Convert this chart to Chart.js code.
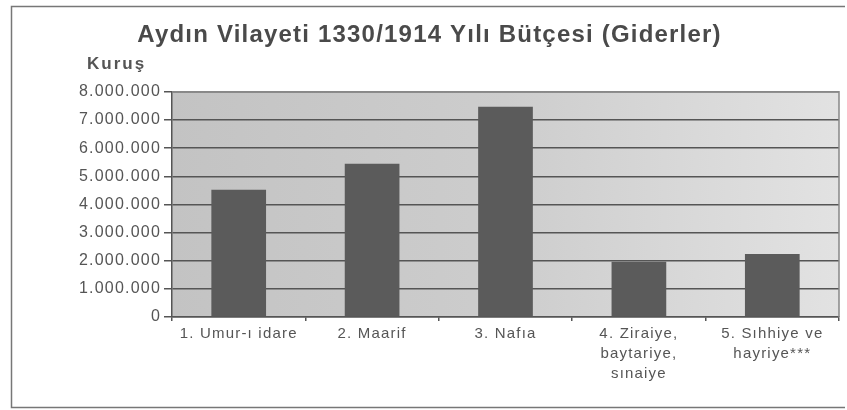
<!DOCTYPE html>
<html>
<head>
<meta charset="utf-8">
<title>Aydın Vilayeti 1330/1914 Yılı Bütçesi (Giderler)</title>
<script src="https://cdn.jsdelivr.net/npm/chart.js@4.4.1/dist/chart.umd.min.js"></script>
<style>
  body { margin: 0; background: #fff; }
  canvas { display: block; }
</style>
</head>
<body>
<canvas id="budgetChart" width="847" height="410"></canvas>
<script>
const categories = [
  '1. Umur-ı idare',
  '2. Maarif',
  '3. Nafıa',
  ['4. Ziraiye,', 'baytariye,', 'sınaiye'],
  ['5. Sıhhiye ve', 'hayriye***']
];
const expenses = [4520000, 5440000, 7470000, 1960000, 2240000];
const yTicks = [0, 1000000, 2000000, 3000000, 4000000, 5000000, 6000000, 7000000, 8000000];

const textColor = '#555';
const font = '"Liberation Sans", Arial, sans-serif';

// the scanned original is stretched sideways, so all text gets a little spacing
const wideText = {
  id: 'wideText',
  beforeUpdate(chart) { chart.ctx.letterSpacing = '1.2px'; },
  beforeDraw(chart) { chart.ctx.letterSpacing = '1.2px'; }
};

// gray plot background, outer frame and the "Kuruş" unit label
const frame = {
  id: 'frame',
  beforeDraw(chart) {
    const { ctx, chartArea: a } = chart;
    ctx.save();
    const g = ctx.createLinearGradient(a.left, 0, a.right, 0);
    g.addColorStop(0, '#c3c3c3');
    g.addColorStop(0.5, '#cdcdcd');
    g.addColorStop(1, '#e2e2e2');
    ctx.fillStyle = g;
    ctx.fillRect(a.left, a.top, a.right - a.left, a.bottom - a.top);

    ctx.strokeStyle = '#777';
    ctx.lineWidth = 1.5;
    ctx.beginPath();
    ctx.moveTo(845, 6.5);
    ctx.lineTo(11.5, 6.5);
    ctx.lineTo(11.5, 407.5);
    ctx.lineTo(845, 407.5);
    ctx.stroke();
    ctx.restore();
  },
  afterDraw(chart) {
    const { ctx, chartArea: a } = chart;
    ctx.save();
    ctx.strokeStyle = '#888';
    ctx.lineWidth = 1.5;
    ctx.beginPath();
    ctx.moveTo(a.left, a.top);
    ctx.lineTo(a.right, a.top);
    ctx.lineTo(a.right, a.bottom);
    ctx.stroke();

    ctx.fillStyle = textColor;
    ctx.letterSpacing = '2px';
    ctx.font = 'bold 17px ' + font;
    ctx.textBaseline = 'middle';
    ctx.fillText('Kuruş', 87, 64);
    ctx.restore();
  }
};

new Chart(document.getElementById('budgetChart'), {
  type: 'bar',
  data: {
    labels: categories,
    datasets: [{
      label: 'Giderler',
      data: expenses,
      backgroundColor: '#5b5b5b',
      barPercentage: 0.41,
      categoryPercentage: 1
    }]
  },
  options: {
    responsive: false,
    animation: false,
    layout: { padding: { left: 20, right: 8, top: 0, bottom: 0 } },
    plugins: {
      legend: { display: false },
      tooltip: { enabled: false },
      title: {
        display: true,
        text: 'Aydın Vilayeti 1330/1914 Yılı Bütçesi (Giderler)',
        color: '#4a4a4a',
        font: { family: font, size: 24, weight: 'bold', lineHeight: 1.2 },
        padding: { top: 21, bottom: 42 }
      }
    },
    scales: {
      x: {
        grid: { display: true, drawOnChartArea: false, tickLength: 4, color: '#555', lineWidth: 1.5 },
        border: { color: '#555', width: 1.5 },
        ticks: {
          color: textColor,
          padding: 3,
          maxRotation: 0,
          autoSkip: false,
          font: { family: font, size: 15, lineHeight: 1.33 }
        },
        afterFit(scale) { scale.height = 93; }
      },
      y: {
        min: 0,
        max: 8000000,
        afterBuildTicks(scale) { scale.ticks = yTicks.map(v => ({ value: v })); },
        grid: { color: '#555', lineWidth: 1.5, tickLength: 8 },
        border: { color: '#555', width: 1.5 },
        ticks: {
          color: textColor,
          padding: 3,
          font: { family: font, size: 16 },
          callback: v => v.toLocaleString('de-DE')
        },
        afterFit(scale) { scale.width = 152; }
      }
    }
  },
  plugins: [wideText, frame]
});
</script>
</body>
</html>
